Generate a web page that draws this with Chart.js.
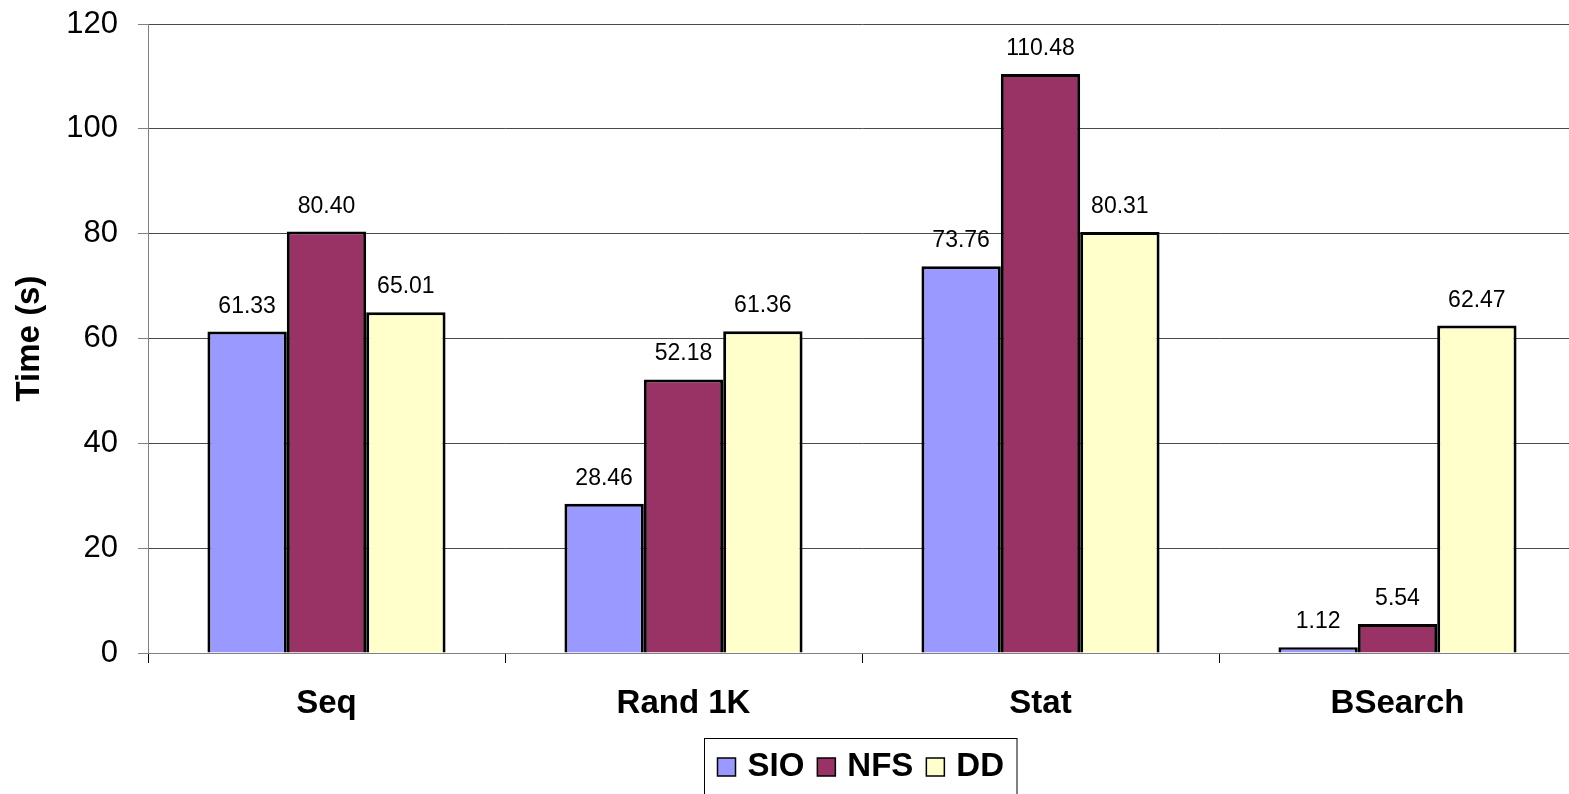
<!DOCTYPE html>
<html>
<head>
<meta charset="utf-8">
<script src="https://cdn.jsdelivr.net/npm/chart.js@4/dist/chart.umd.min.js"></script>
<style>
  html, body { margin: 0; padding: 0; background: #fff; overflow: hidden; }
  #wrap { width: 1576px; height: 794px; position: relative; }
</style>
</head>
<body>
<div id="wrap"><canvas id="chart"></canvas></div>
<script>
// Benchmark categories and measured times (seconds)
const categories = ['Seq', 'Rand 1K', 'Stat', 'BSearch'];
const seriesNames = ['SIO', 'NFS', 'DD'];
const sioTimes = [61.33, 28.46, 73.76, 1.12];
const nfsTimes = [80.40, 52.18, 110.48, 5.54];
const ddTimes  = [65.01, 61.36, 80.31, 62.47];
const yTicks = [0, 20, 40, 60, 80, 100, 120];

const seriesValues = [sioTimes, nfsTimes, ddTimes];
const seriesColors = ['#9999FF', '#993366', '#FFFFCC'];
const FONT = '"Liberation Sans", Arial, sans-serif';

// Value labels above each bar
const valueLabels = {
  id: 'valueLabels',
  afterDatasetsDraw(chart) {
    const ctx = chart.ctx;
    ctx.save();
    ctx.font = '23px ' + FONT;
    ctx.fillStyle = '#000';
    ctx.textAlign = 'center';
    ctx.textBaseline = 'alphabetic';
    chart.data.datasets.forEach((ds, di) => {
      chart.getDatasetMeta(di).data.forEach((bar, i) => {
        ctx.fillText(ds.data[i].toFixed(2), bar.x, bar.y - 19);
      });
    });
    ctx.restore();
  }
};

// Boxed legend centred under the category labels
const boxedLegend = {
  id: 'boxedLegend',
  afterDraw(chart) {
    const ctx = chart.ctx;
    ctx.save();
    ctx.font = 'bold 33px ' + FONT;
    const sq = 18, gapAfterSq = 12, gapItems = 13;
    let total = 0;
    const widths = chart.data.datasets.map(ds => ctx.measureText(ds.label).width);
    widths.forEach((w, i) => { total += sq + gapAfterSq + w + (i < widths.length - 1 ? gapItems : 0); });
    const padX = 13;
    const boxW = total + padX * 2;
    const boxX = Math.round(860 - boxW / 2) + 0.5;
    const boxY = 738.5;
    ctx.strokeStyle = '#000';
    ctx.lineWidth = 1;
    ctx.strokeRect(boxX, boxY, boxW, 80);
    let x = boxX + padX;
    const cy = 767;
    chart.data.datasets.forEach((ds, i) => {
      ctx.fillStyle = ds.backgroundColor;
      ctx.fillRect(x, cy - sq / 2, sq, sq);
      ctx.strokeStyle = '#000';
      ctx.lineWidth = 1.5;
      ctx.strokeRect(x, cy - sq / 2, sq, sq);
      x += sq + gapAfterSq;
      ctx.fillStyle = '#000';
      ctx.textAlign = 'left';
      ctx.textBaseline = 'middle';
      ctx.fillText(ds.label, x, cy);
      x += widths[i] + gapItems;
    });
    ctx.restore();
  }
};

new Chart(document.getElementById('chart'), {
  type: 'bar',
  data: {
    labels: categories,
    datasets: seriesNames.map((name, i) => ({
      label: name,
      data: seriesValues[i],
      backgroundColor: seriesColors[i],
      borderColor: '#000',
      borderWidth: 3,
      categoryPercentage: 0.667,
      barPercentage: 1.0
    }))
  },
  options: {
    responsive: true,
    maintainAspectRatio: false,
    animation: false,
    layout: { padding: { top: 24, left: 0, right: 0, bottom: 0 } },
    plugins: {
      legend: { display: false },
      tooltip: { enabled: false }
    },
    scales: {
      x: {
        grid: { drawOnChartArea: false, drawTicks: true, tickLength: 10, color: '#000', offset: true },
        border: { color: '#808080', width: 1 },
        ticks: { color: '#000', font: { family: FONT, size: 33, weight: 'bold' }, padding: 21 },
        afterFit(scale) { scale.height = 141; }
      },
      y: {
        min: 0,
        max: 120,
        afterBuildTicks(scale) { scale.ticks = yTicks.map(v => ({ value: v })); },
        grid: { color: '#4a4a4a', lineWidth: 1, tickLength: 10, tickColor: '#808080' },
        border: { color: '#808080', width: 1 },
        ticks: { color: '#000', font: { family: FONT, size: 31 }, padding: 20 },
        title: {
          display: true,
          text: 'Time (s)',
          color: '#000',
          font: { family: FONT, size: 33, weight: 'bold' },
          padding: { top: 10, bottom: 0 }
        },
        afterFit(scale) {
          scale.width = 148;
          scale.paddingTop = 0;
          scale.paddingBottom = 0;
        }
      }
    }
  },
  plugins: [valueLabels, boxedLegend]
});
</script>
</body>
</html>
